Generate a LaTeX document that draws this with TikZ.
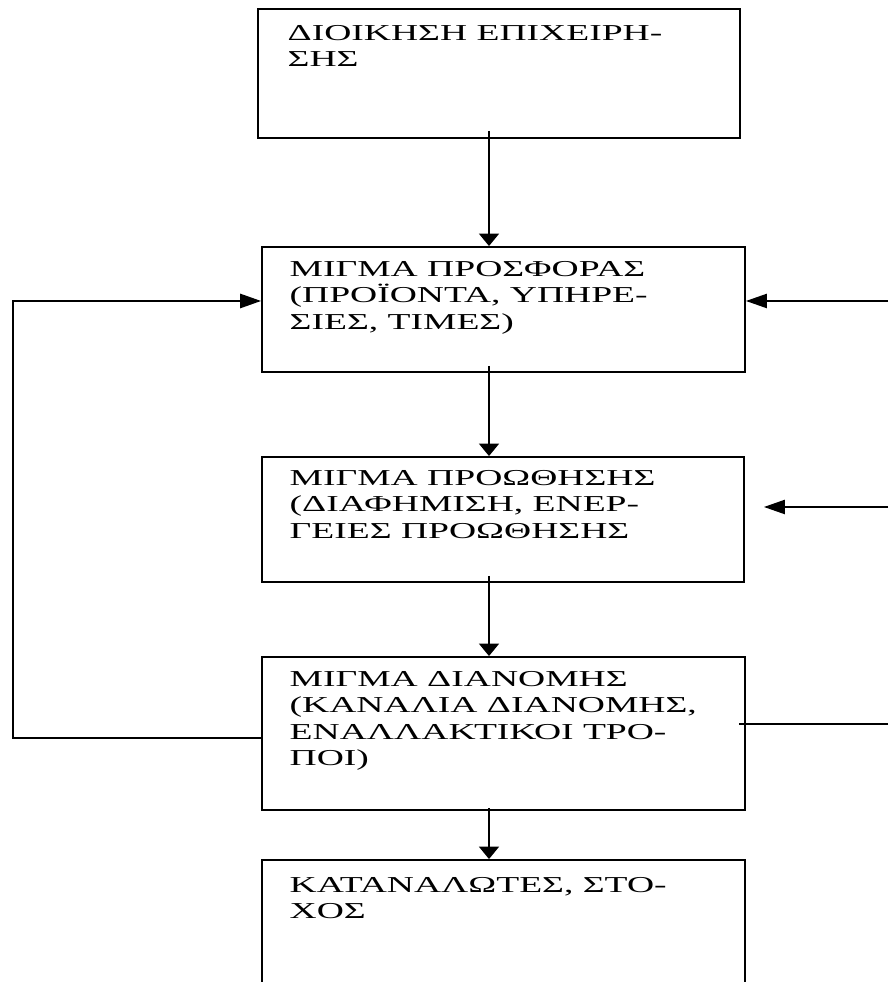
\documentclass[tikz,border=0pt]{standalone}
\usepackage{fontspec}
\setmainfont{Liberation Serif}
\usepackage{tikz}
\usetikzlibrary{arrows.meta,calc}

\begin{document}
\begin{tikzpicture}[x=0.527pt,y=0.527pt,
        box/.style={draw, line width=1pt, inner sep=0pt},
        txt/.style={anchor=north west, inner sep=0pt, align=left, xscale=1.65,
                font=\fontsize{12}{14}\selectfont},
        arrv/.style={line width=0.7pt, -{Triangle[length=6.5pt,width=10.5pt]}},
        arrh/.style={line width=0.7pt, -{Triangle[length=11pt,width=7.5pt]}}]
                \useasboundingbox (0,0) rectangle (888,982);
                \clip (0,0) rectangle (888,982);
                \node[box, minimum width=482*0.527pt, minimum height=129*0.527pt] (dioikisi) at (499,908.5) {};
                \node[box, minimum width=483*0.527pt, minimum height=125*0.527pt] (prosfora) at (503.5,672.5) {};
                \node[box, minimum width=482*0.527pt, minimum height=125*0.527pt] (proothisi) at (503,462.5) {};
                \node[box, minimum width=483*0.527pt, minimum height=153*0.527pt] (dianomi) at (503.5,248.5) {};
                \node[box, minimum width=483*0.527pt, minimum height=150*0.527pt] (katanalotes) at (503.5,47) {};
                \node[txt] (t1) at ($(dioikisi.north west)+(30,-13)$) {\strut ΔΙΟΙΚΗΣΗ ΕΠΙΧΕΙΡΗ-\\ΣΗΣ};
                \node[txt] (t2) at ($(prosfora.north west)+(28,-11)$) {\strut ΜΙΓΜΑ ΠΡΟΣΦΟΡΑΣ\\(ΠΡΟΪΟΝΤΑ, ΥΠΗΡΕ-\\ΣΙΕΣ, ΤΙΜΕΣ)};
                \node[txt] (t3) at ($(proothisi.north west)+(28,-10)$) {\strut ΜΙΓΜΑ ΠΡΟΩΘΗΣΗΣ\\(ΔΙΑΦΗΜΙΣΗ, ΕΝΕΡ-\\ΓΕΙΕΣ ΠΡΟΩΘΗΣΗΣ};
                \node[txt] (t4) at ($(dianomi.north west)+(28,-11)$) {\strut ΜΙΓΜΑ ΔΙΑΝΟΜΗΣ\\(ΚΑΝΑΛΙΑ ΔΙΑΝΟΜΗΣ,\\ΕΝΑΛΛΑΚΤΙΚΟΙ ΤΡΟ-\\ΠΟΙ)};
                \node[txt] (t5) at ($(katanalotes.north west)+(28,-14)$) {\strut ΚΑΤΑΝΑΛΩΤΕΣ, ΣΤΟ-\\ΧΟΣ};
                \draw[arrv] ($(dioikisi.south)+(-10,8)$) -- ($(prosfora.north)+(-14.5,0)$);
                \draw[arrv] ($(prosfora.south)+(-14.5,7)$) -- ($(proothisi.north)+(-14,0)$);
                \draw[arrv] ($(proothisi.south)+(-14,7)$) -- ($(dianomi.north)+(-14.5,0)$);
                \draw[arrv] ($(dianomi.south)+(-14.5,3)$) -- ($(katanalotes.north)+(-14.5,0)$);
                \coordinate (links) at (13,244);
                \coordinate (rechts1) at (888,681);
                \coordinate (rechts2) at (888,475);
                \coordinate (rechts3) at (888,258);
                \draw[line width=1pt, -{Triangle[length=11pt,width=7.5pt]}] (dianomi.west |- links) -- (links) -- (links |- rechts1) -- (prosfora.west |- rechts1);
                \draw[arrh] (rechts1) -- (prosfora.east |- rechts1);
                \draw[arrh] (rechts2) -- ($(proothisi.east |- rechts2)+(19,0)$);
                \draw[line width=0.7pt] (rechts3) -- ($(dianomi.east |- rechts3)+(-7,0)$);
            \end{tikzpicture}
\end{document}
